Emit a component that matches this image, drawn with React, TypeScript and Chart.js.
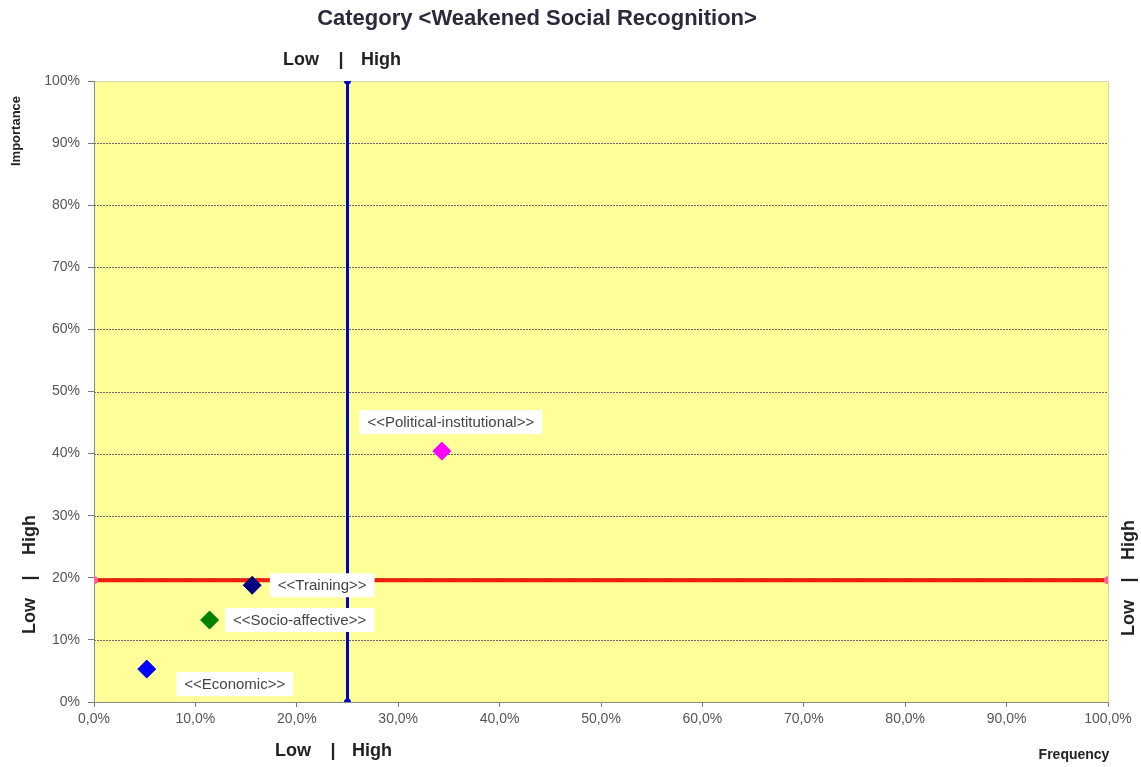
import React, { useEffect, useRef } from 'react';
import { Chart, registerables } from 'chart.js';

Chart.register(...registerables);

// Factors plotted by frequency (x) and importance (y), both in percent
const categories = ['<<Political-institutional>>', '<<Training>>', '<<Socio-affective>>', '<<Economic>>'];
const frequency = [34.3, 15.6, 11.4, 5.2];
const importance = [40.4, 18.8, 13.2, 5.3];
const markerColors = ['#FF00FF', '#000080', '#008000', '#0000FF'];

// Quadrant split values
const frequencyThreshold = 25;
const importanceThreshold = 19.6;

const xTickValues = [0, 10, 20, 30, 40, 50, 60, 70, 80, 90, 100];
const yTickValues = [0, 10, 20, 30, 40, 50, 60, 70, 80, 90, 100];

const chartTitle = 'Category <Weakened Social Recognition>';
const xAxisTitle = 'Frequency';
const yAxisTitle = 'Importance';

// Label box placement relative to each marker (pixels)
const labelOffsets = [
  { dx: 9, dy: -29 },
  { dx: 70, dy: 0 },
  { dx: 90, dy: 0 },
  { dx: 88, dy: 15 },
];

const FONT = '"Liberation Sans", Arial, sans-serif';
const PLOT_BG = '#FFFF99';

const fmtX = (v: number) => v.toFixed(1).replace('.', ',') + '%';
const fmtY = (v: number) => v + '%';

const decorPlugin = {
  id: 'decor',
  beforeDraw(chart: any) {
    const { ctx, chartArea: a } = chart;
    ctx.save();
    ctx.fillStyle = '#FFFFFF';
    ctx.fillRect(0, 0, chart.width, chart.height);
    ctx.fillStyle = PLOT_BG;
    ctx.fillRect(a.left, a.top, a.right - a.left, a.bottom - a.top);
    // dotted horizontal grid lines
    const ys = chart.scales.y;
    ctx.strokeStyle = '#666666';
    ctx.lineWidth = 1;
    ctx.setLineDash([2, 1]);
    yTickValues.forEach((v) => {
      if (v === 0 || v === 100) return;
      const py = Math.round(ys.getPixelForValue(v)) + 0.5;
      ctx.beginPath();
      ctx.moveTo(a.left, py);
      ctx.lineTo(a.right, py);
      ctx.stroke();
    });
    ctx.setLineDash([]);
    // light edges of plot
    ctx.strokeStyle = '#d6d6a8';
    ctx.beginPath();
    ctx.moveTo(a.left, a.top + 0.5);
    ctx.lineTo(a.right + 0.5, a.top + 0.5);
    ctx.lineTo(a.right + 0.5, a.bottom);
    ctx.stroke();
    ctx.restore();
  },
  afterDatasetsDraw(chart: any) {
    const { ctx } = chart;
    const xs = chart.scales.x;
    const ys = chart.scales.y;
    ctx.save();
    ctx.font = `15px ${FONT}`;
    ctx.textAlign = 'center';
    ctx.textBaseline = 'middle';
    categories.forEach((label, i) => {
      const px = xs.getPixelForValue(frequency[i]) + labelOffsets[i].dx;
      const py = ys.getPixelForValue(importance[i]) + labelOffsets[i].dy;
      const w = ctx.measureText(label).width + 16;
      const h = 24;
      ctx.fillStyle = '#FFFFFF';
      ctx.fillRect(px - w / 2, py - h / 2, w, h);
      ctx.fillStyle = '#444444';
      ctx.fillText(label, px, py + 1);
    });
    ctx.restore();
  },
  afterDraw(chart: any) {
    const { ctx } = chart;
    ctx.save();
    ctx.fillStyle = '#222222';
    ctx.textBaseline = 'middle';

    // title
    ctx.font = `bold 22px ${FONT}`;
    ctx.textAlign = 'center';
    ctx.fillStyle = '#2a2a3a';
    ctx.fillText(chartTitle, 537, 19);
    ctx.fillStyle = '#222222';

    // Low | High captions
    const lowHigh = (cx: number, cy: number, rot: number, lowEnd: number, highStart: number) => {
      ctx.save();
      ctx.translate(cx, cy);
      ctx.rotate(rot);
      ctx.font = `bold 18px ${FONT}`;
      ctx.textAlign = 'right';
      ctx.fillText('Low', lowEnd, 0);
      ctx.textAlign = 'center';
      ctx.fillText('|', 0, 0);
      ctx.textAlign = 'left';
      ctx.fillText('High', highStart, 0);
      ctx.restore();
    };
    lowHigh(341, 60, 0, -22, 20);
    lowHigh(333, 751, 0, -22, 19);
    lowHigh(30, 578, -Math.PI / 2, -20, 23);
    lowHigh(1129, 580, -Math.PI / 2, -20, 20);

    // axis titles
    ctx.font = `bold 14px ${FONT}`;
    ctx.textAlign = 'center';
    ctx.fillText(xAxisTitle, 1074, 755);
    ctx.save();
    ctx.translate(16, 131);
    ctx.rotate(-Math.PI / 2);
    ctx.font = `bold 13px ${FONT}`;
    ctx.fillText(yAxisTitle, 0, 0);
    ctx.restore();
    ctx.restore();
  },
};

export default function App() {
  const canvasRef = useRef<HTMLCanvasElement | null>(null);

  useEffect(() => {
    if (!canvasRef.current) return;
    const chart = new Chart(canvasRef.current, {
      type: 'scatter',
      data: {
        datasets: [
          {
            label: 'Factors',
            data: frequency.map((f, i) => ({ x: f, y: importance[i] })),
            pointStyle: 'rectRot',
            pointRadius: 9,
            pointBackgroundColor: markerColors,
            pointBorderColor: markerColors,
            pointBorderWidth: 1,
            order: 0,
          },
          {
            type: 'line',
            label: 'Frequency split',
            data: [
              { x: frequencyThreshold, y: 0 },
              { x: frequencyThreshold, y: 100 },
            ],
            borderColor: '#0000CC',
            borderWidth: 3,
            pointRadius: 2,
            pointBackgroundColor: '#0000CC',
            pointBorderColor: '#0000CC',
            order: 1,
          },
          {
            type: 'line',
            label: 'Importance split',
            data: [
              { x: 0, y: importanceThreshold },
              { x: 100, y: importanceThreshold },
            ],
            borderColor: '#F01E0A',
            borderWidth: 4,
            pointRadius: 2,
            pointBackgroundColor: '#FF99CC',
            pointBorderColor: '#FF6699',
            order: 1,
          },
        ],
      },
      options: {
        responsive: false,
        animation: false,
        layout: { padding: { top: 81, right: 33, left: 0, bottom: 0 } },
        plugins: {
          legend: { display: false },
          title: { display: false },
          tooltip: { enabled: false },
        },
        scales: {
          x: {
            type: 'linear',
            min: 0,
            max: 100,
            afterFit: (s: any) => {
              s.height = 65;
            },
            afterBuildTicks: (s: any) => {
              s.ticks = xTickValues.map((v) => ({ value: v }));
            },
            ticks: {
              callback: (v: any) => fmtX(Number(v)),
              color: '#555555',
              font: { family: FONT, size: 14 },
              padding: 4,
              maxRotation: 0,
            },
            grid: { drawOnChartArea: false, drawTicks: true, tickLength: 5, color: '#777777' },
            border: { display: true, color: '#8a8a8a', width: 1 },
          },
          y: {
            type: 'linear',
            min: 0,
            max: 100,
            afterFit: (s: any) => {
              s.width = 94;
            },
            afterBuildTicks: (s: any) => {
              s.ticks = yTickValues.map((v) => ({ value: v }));
            },
            ticks: {
              callback: (v: any) => fmtY(Number(v)),
              color: '#555555',
              font: { family: FONT, size: 14 },
              padding: 8,
            },
            grid: { drawOnChartArea: false, drawTicks: true, tickLength: 6, color: '#777777' },
            border: { display: true, color: '#8a8a8a', width: 1 },
          },
        },
      },
      plugins: [decorPlugin],
    });
    return () => chart.destroy();
  }, []);

  return (
    <div style={{ position: 'absolute', left: 0, top: 0, width: 1141, height: 767 }}>
      <canvas ref={canvasRef} width={1141} height={767} style={{ display: 'block' }} />
    </div>
  );
}
